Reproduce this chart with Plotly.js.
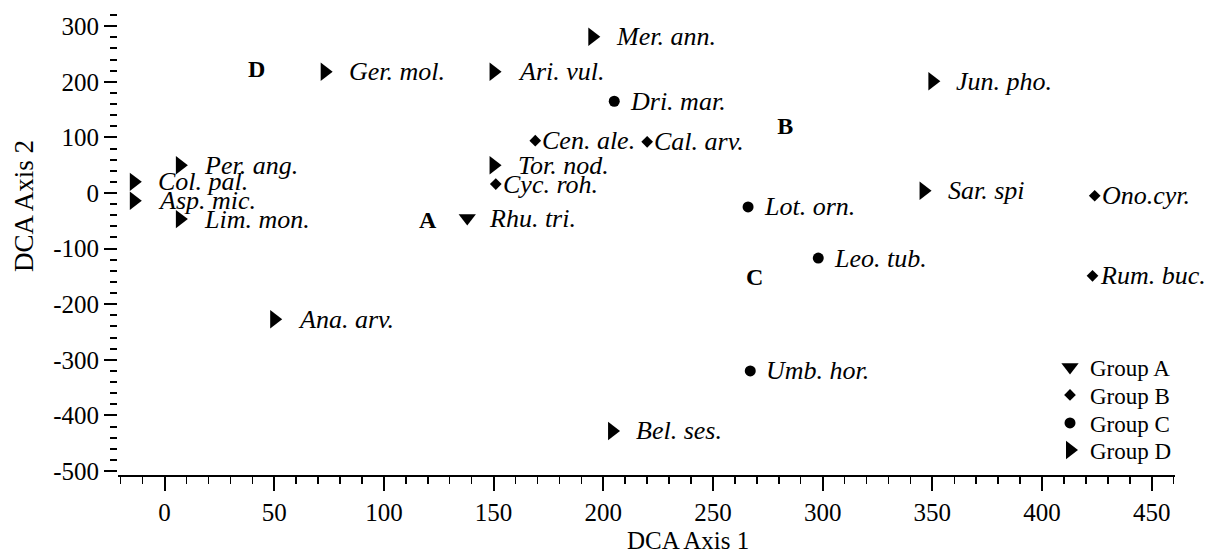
<!DOCTYPE html>
<html>
<head>
<meta charset="utf-8">
<script src="https://cdn.plot.ly/plotly-3.0.1.min.js"></script>
<style>
  html, body { margin: 0; padding: 0; background: #fff; }
  #chart { width: 1207px; height: 554px; }
</style>
</head>
<body>
<div id="chart"></div>
<script>
// DCA ordination of species scores, marked by cluster group
const groupNames   = ['Group A', 'Group B', 'Group C', 'Group D'];
const groupSymbols = ['triangle-down', 'diamond', 'circle', 'triangle-right'];
const groupSizes   = [15, 9, 11, 16];
const labelGaps    = [20, 5, 14, 22];

const groupASpecies = ['Rhu. tri.'];
const groupAx = [138];
const groupAy = [-45];

const groupBSpecies = ['Cen. ale.', 'Cal. arv.', 'Cyc. roh.', 'Ono.cyr.', 'Rum. buc.'];
const groupBx = [169, 220, 151, 424, 423];
const groupBy = [94, 92, 16, -5, -149];

const groupCSpecies = ['Dri. mar.', 'Lot. orn.', 'Leo. tub.', 'Umb. hor.'];
const groupCx = [205, 266, 298, 267];
const groupCy = [165, -25, -117, -320];

const groupDSpecies = ['Mer. ann.', 'Ger. mol.', 'Ari. vul.', 'Jun. pho.', 'Per. ang.', 'Tor. nod.',
                       'Col. pal.', 'Asp. mic.', 'Lim. mon.', 'Sar. spi', 'Ana. arv.', 'Bel. ses.'];
const groupDx = [195, 73, 150, 350, 7, 150, -14, -14, 7, 346, 50, 204];
const groupDy = [281, 218, 218, 201, 50, 50, 20, -14, -47, 4, -227, -428];

// group centroid letters
const centroidLabels = ['A', 'B', 'C', 'D'];
const centroidX = [120, 283, 269, 42];
const centroidY = [-52, 117, -155, 219];

// axis ticks
const xTickVals = [0, 50, 100, 150, 200, 250, 300, 350, 400, 450];
const yTickVals = [300, 200, 100, 0, -100, -200, -300, -400, -500];
const yTickText = ['300', '200', '100', '0', '-100', '-200', '-300', '-400', '-500'];

const SERIF = 'Liberation Serif, Times New Roman, serif';

const groups = [
  { species: groupASpecies, x: groupAx, y: groupAy },
  { species: groupBSpecies, x: groupBx, y: groupBy },
  { species: groupCSpecies, x: groupCx, y: groupCy },
  { species: groupDSpecies, x: groupDx, y: groupDy }
];

// one small legend per group, stacked at the lower right
const legendIds = ['legend', 'legend2', 'legend3', 'legend4'];
const legendCentersPx = [367, 395, 423, 450];

const traces = groups.map((g, i) => ({
  type: 'scatter',
  mode: 'markers',
  name: groupNames[i],
  legend: legendIds[i],
  x: g.x,
  y: g.y,
  text: g.species,
  hoverinfo: 'text',
  marker: { symbol: groupSymbols[i], size: groupSizes[i], color: '#000', line: { width: 0 } },
  cliponaxis: false
}));

traces.push({
  type: 'scatter',
  mode: 'text',
  x: centroidX,
  y: centroidY,
  text: centroidLabels,
  textposition: 'middle center',
  textfont: { family: SERIF, size: 24, color: '#000', weight: 'bold' },
  showlegend: false,
  hoverinfo: 'skip',
  cliponaxis: false
});

// species names set in italics beside each marker
const annotations = [];
groups.forEach((g, i) => {
  g.species.forEach((name, k) => {
    annotations.push({
      x: g.x[k], y: g.y[k], xref: 'x', yref: 'y',
      text: '<i>' + name + '</i>', showarrow: false,
      xanchor: 'left', yanchor: 'middle',
      xshift: labelGaps[i],
      font: { family: SERIF, size: 26, color: '#000' }
    });
  });
});

annotations.push({
  xref: 'paper', yref: 'paper', x: 0.539, y: -0.14,
  text: 'DCA Axis 1', showarrow: false, xanchor: 'center', yanchor: 'middle',
  font: { family: SERIF, size: 25, color: '#000' }
});
annotations.push({
  xref: 'paper', yref: 'paper', x: -0.089, y: 0.572,
  text: 'DCA Axis 2', showarrow: false, textangle: -90, xanchor: 'center', yanchor: 'middle',
  font: { family: SERIF, size: 27, color: '#000' }
});

const plotTop = 5, plotBottom = 475, plotLeft = 118, plotWidth = 1057;

const layout = {
  width: 1207,
  height: 554,
  margin: { l: plotLeft, r: 1207 - plotLeft - plotWidth, t: plotTop, b: 554 - plotBottom },
  paper_bgcolor: '#fff',
  plot_bgcolor: '#fff',
  font: { family: SERIF, size: 25, color: '#000' },
  showlegend: true,
  xaxis: {
    range: [-21.2, 460.6],
    tickmode: 'array', tickvals: xTickVals,
    ticks: 'outside', ticklen: 14, tickwidth: 2, tickcolor: '#000',
    minor: { tickmode: 'linear', tick0: 0, dtick: 10, ticks: 'outside', ticklen: 7, tickwidth: 1.5, tickcolor: '#000' },
    showline: true, linecolor: '#000', linewidth: 2,
    showgrid: false, zeroline: false,
    tickfont: { family: SERIF, size: 25, color: '#000' }
  },
  yaxis: {
    range: [-507.2, 338.1],
    tickmode: 'array', tickvals: yTickVals, ticktext: yTickText,
    ticks: 'outside', ticklen: 13, tickwidth: 2, tickcolor: '#000',
    minor: { tickmode: 'linear', tick0: 0, dtick: 20, ticks: 'outside', ticklen: 7, tickwidth: 2, tickcolor: '#000' },
    showline: false,
    showgrid: false, zeroline: false,
    tickfont: { family: SERIF, size: 25, color: '#000' }
  },
  annotations: annotations
};

legendIds.forEach((id, i) => {
  layout[id] = {
    x: (1050 - plotLeft) / plotWidth,
    y: (plotBottom - legendCentersPx[i]) / (plotBottom - plotTop),
    xanchor: 'left', yanchor: 'middle',
    bgcolor: 'rgba(0,0,0,0)', borderwidth: 0,
    font: { family: SERIF, size: 23, color: '#000' },
    itemclick: false, itemdoubleclick: false
  };
});

Plotly.newPlot('chart', traces, layout, { displayModeBar: false, staticPlot: true });
</script>
</body>
</html>
